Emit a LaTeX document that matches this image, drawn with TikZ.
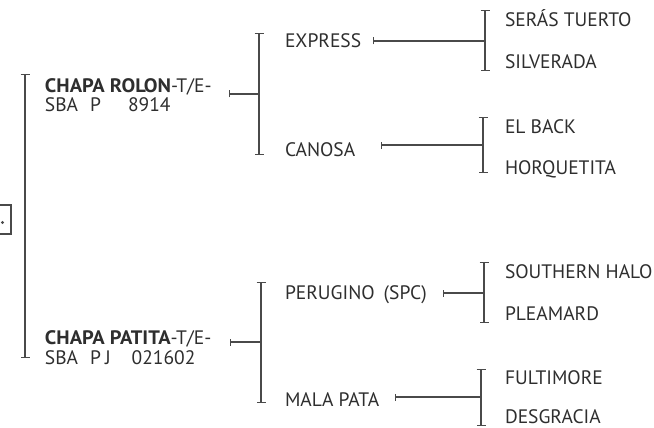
\documentclass[tikz,border=0pt]{standalone}
\usepackage{fontspec}
\setmainfont{PT Sans}
\usetikzlibrary{arrows.meta}
\definecolor{txt}{HTML}{2E2E2E}
\definecolor{ln}{HTML}{4A4A4A}
\newcommand{\widebold}[1]{\scalebox{1.05}[1.0]{\textbf{#1}}}
\begin{document}
\begin{tikzpicture}[x=1pt,y=-1pt,
  lbl/.style={anchor=base west,inner sep=0pt,outer sep=0pt,text=txt,font=\fontsize{19.5}{20}\selectfont,align=left},
  brk/.style={draw=ln,line width=1.2pt,{Bar[width=9pt,line width=1.2pt]}-{Bar[width=9pt,line width=1.2pt]}},
  con/.style={draw=ln,line width=1.2pt,{Bar[width=7pt,line width=1.2pt]}-},
  rootbox/.style={draw=ln,line width=1.2pt,minimum width=22pt,minimum height=29pt,inner sep=0pt}]
\useasboundingbox (0,0) rectangle (654,428);
% root
\node[rootbox] (root) at (0,219.5) {};
\fill[ln] (2.5,222.5) circle (1.6);
% level 0 bracket
\coordinate (b0t) at (25,74);
\coordinate (b0b) at (25,358);
\draw[brk] (b0t) -- (b0b);
% level 1 nodes (anchor = baseline of last line)
\node[lbl] (rolon) at (45,112) {\widebold{CHAPA ROLON}-T/E-\\SBA\hspace{12pt}P\hspace{27pt}8914};
\node[lbl] (patita) at (45,364) {\widebold{CHAPA PATITA}-T/E-\\SBA\hspace{12pt}P\hspace{4pt}J\hspace{21pt}021602};
% level 1 brackets
\coordinate (b1t) at (259,33);
\coordinate (b1b) at (259,155);
\coordinate (b1m) at (259,94);
\draw[brk] (b1t) -- (b1b);
\coordinate (b2t) at (261,282);
\coordinate (b2b) at (261,403);
\coordinate (b2m) at (261,342);
\draw[brk] (b2t) -- (b2b);
\coordinate (rolono) at (229,94);
\coordinate (patitao) at (230,342);
\draw[con] (rolono) -- (b1m);
\draw[con] (patitao) -- (b2m);
% level 2 nodes
\node[lbl] (express) at (285,48) {EXPRESS};
\node[lbl] (canosa) at (285,156) {CANOSA};
\node[lbl] (perugino) at (285,299) {PERUGINO\hspace{9pt}(SPC)};
\node[lbl] (mala) at (285,406) {MALA PATA};
% level 2 brackets
\coordinate (b3t) at (485,10);
\coordinate (b3b) at (485,71);
\coordinate (b3m) at (485,41);
\draw[brk] (b3t) -- (b3b);
\coordinate (b4t) at (483,117);
\coordinate (b4b) at (483,173);
\coordinate (b4m) at (483,145);
\draw[brk] (b4t) -- (b4b);
\coordinate (b5t) at (484,262);
\coordinate (b5b) at (484,323);
\coordinate (b5m) at (484,293);
\draw[brk] (b5t) -- (b5b);
\coordinate (b6t) at (481,369);
\coordinate (b6b) at (481,426);
\coordinate (b6m) at (481,397);
\draw[brk] (b6t) -- (b6b);
\coordinate (expresso) at (372.5,41);
\coordinate (canosao) at (381,145);
\coordinate (peruginoo) at (443,293);
\coordinate (malao) at (395,397);
\draw[con] (expresso) -- (b3m);
\draw[con] (canosao) -- (b4m);
\draw[con] (peruginoo) -- (b5m);
\draw[con] (malao) -- (b6m);
% level 3 nodes
\node[lbl] (seras) at (505,27) {SERÁS TUERTO};
\node[lbl] (silverada) at (505,69) {SILVERADA};
\node[lbl] (elback) at (505,134) {EL BACK};
\node[lbl] (horq) at (505,175) {HORQUETITA};
\node[lbl] (southern) at (505,278) {SOUTHERN HALO};
\node[lbl] (pleamard) at (505,320) {PLEAMARD};
\node[lbl] (fultimore) at (505,384) {FULTIMORE};
\node[lbl] (desgracia) at (505,423) {DESGRACIA};
\end{tikzpicture}
\end{document}
